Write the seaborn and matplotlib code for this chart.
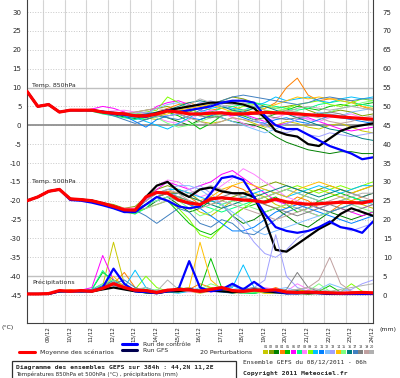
import matplotlib
matplotlib.use("Agg")
import pandas as pd
import matplotlib.pyplot as plt
import seaborn as sns
from matplotlib.lines import Line2D
from matplotlib.patches import Rectangle
from matplotlib.transforms import ScaledTranslation

# time axis: hours after 08/12/2011 06h, every 12 h
hours = list(range(0, 385, 12))
day_hours = [18 + 24 * k for k in range(16)]
day_labels = ["09/12", "10/12", "11/12", "12/12", "13/12", "14/12", "15/12", "16/12",
              "17/12", "18/12", "19/12", "20/12", "21/12", "22/12", "23/12", "24/12"]

member_names = ["%02d" % (i + 1) for i in range(20)]
member_colors = ["#c8c800", "#80a000", "#008000", "#ff8000", "#00c000", "#ff00ff", "#00ff80",
                 "#ff80ff", "#80ff00", "#00c0ff", "#0080ff", "#80c0ff", "#a0a0ff", "#ffc000",
                 "#80ff80", "#008080", "#4080c0", "#808080", "#c0a0a0", "#b0b0b0"]

# --- 850 hPa temperature (deg C)
t850_mean = [9, 5, 5.5, 3.5, 4, 4, 4, 3.5, 3.2, 3, 2.5, 2.5, 3, 3.8, 3.5, 3, 3, 3.2, 3.3, 3, 3,
             3.2, 3.4, 3.3, 3.2, 3, 2.8, 2.6, 2.5, 2.2, 2, 1.8, 1.6]
t850_control = [9, 5, 5.5, 3.5, 4, 4, 4, 3.6, 3, 2.8, 2.5, 2.3, 3, 4, 3.5, 4, 4.5, 5, 6, 6.5, 6.5,
                6, 2.5, 0, -1, -1, -2.5, -4, -5.5, -6.5, -7.5, -9, -8.5]
t850_gfs = [9, 5, 5.5, 3.5, 4, 4, 4, 3.5, 3.2, 3, 2.5, 2.5, 3.2, 4, 4.5, 5, 5.5, 6, 6, 6, 5.5,
            4.5, 2, -1.5, -2.5, -3, -5, -5.5, -3.5, -1.5, -0.5, 0, 0.5]
t850_members = [
    [9, 5, 5.4, 3.4, 4.1, 4.2, 4.0, 3.6, 3.5, 3.2, 2.8, 2.0, 1.5, 2.5, 3.0, 2.0, 1.0, 0.5, 1.0, 2.0, 1.5, 0.5, -0.5, 0.0, 1.0, 0.5, -0.5, -1.0, 0.0, 0.5, -0.5, -1.5, -2.0],
    [9, 5, 5.6, 3.6, 4.0, 3.8, 4.2, 3.8, 3.0, 2.5, 3.5, 4.0, 4.5, 5.0, 4.0, 3.5, 4.5, 5.5, 6.5, 7.5, 7.0, 6.0, 5.0, 4.5, 5.0, 5.5, 4.0, 3.0, 3.5, 4.0, 3.5, 2.5, 3.0],
    [9, 5, 5.5, 3.5, 3.9, 4.0, 3.8, 3.2, 2.8, 2.2, 1.8, 2.5, 3.0, 2.0, 1.0, 0.0, 1.5, 2.5, 2.0, 1.0, 0.5, 0.0, -1.0, -3.0, -4.5, -5.5, -6.5, -7.0, -7.5, -7.0, -7.0, -7.5, -7.5],
    [9, 5.1, 5.4, 3.5, 4.1, 3.9, 4.1, 3.7, 3.3, 3.5, 2.5, 2.0, 3.5, 4.5, 5.5, 6.0, 5.0, 4.0, 4.5, 5.0, 4.0, 3.5, 4.5, 6.0, 10.0, 12.5, 8.0, 6.5, 7.0, 7.0, 6.5, 5.0, 4.0],
    [9, 5, 5.5, 3.5, 4.0, 4.1, 3.9, 3.5, 3.4, 3.0, 2.0, 1.5, 2.5, 3.5, 2.5, 1.0, -1.0, 0.5, 2.5, 3.0, 2.5, 1.5, 2.0, 3.0, 4.0, 5.0, 4.5, 4.0, 5.0, 5.5, 5.0, 5.5, 6.0],
    [9, 5, 5.6, 3.4, 4.1, 4.0, 4.3, 5.0, 4.5, 3.5, 2.5, 3.0, 5.0, 6.0, 6.5, 5.5, 4.0, 3.5, 3.0, 2.5, 3.0, 2.0, 1.0, 0.0, 0.5, 1.5, 2.0, 1.0, 0.0, -1.0, -1.5, -1.0, -0.5],
    [9, 5, 5.5, 3.5, 4.0, 4.1, 3.7, 3.0, 2.5, 2.0, 1.5, 2.0, 3.0, 4.0, 3.5, 3.0, 2.5, 3.5, 4.5, 5.0, 5.5, 6.0, 5.5, 5.0, 4.5, 4.0, 4.5, 5.5, 6.0, 6.5, 6.0, 5.5, 5.0],
    [9, 5, 5.4, 3.5, 4.0, 3.9, 4.1, 3.6, 3.8, 4.0, 3.5, 3.0, 2.0, 1.0, 0.5, 1.5, 3.0, 4.0, 3.5, 2.0, 0.5, -0.5, 1.0, 2.0, 3.0, 2.5, 1.5, 1.0, 2.0, 2.5, 3.0, 2.0, 1.5],
    [9, 5, 5.5, 3.6, 3.9, 4.0, 4.0, 3.4, 3.0, 2.8, 3.0, 3.5, 4.0, 7.5, 6.0, 4.5, 3.0, 2.5, 3.0, 4.0, 5.0, 5.5, 4.0, 3.5, 4.5, 5.5, 6.0, 6.5, 5.5, 5.0, 6.0, 7.0, 6.5],
    [9, 5, 5.5, 3.5, 4.0, 4.0, 4.0, 3.5, 3.0, 2.5, 2.0, 1.0, 0.0, -1.0, 0.5, 2.0, 3.5, 4.5, 5.0, 4.5, 4.0, 5.0, 6.0, 7.5, 6.5, 7.0, 7.5, 6.5, 6.0, 7.0, 7.5, 7.0, 7.5],
    [9, 5, 5.5, 3.4, 4.0, 4.1, 3.9, 3.8, 3.5, 2.5, 1.0, -0.5, 1.5, 2.5, 3.0, 2.0, 1.5, 2.5, 3.5, 3.0, 2.0, 1.0, 0.5, 1.5, 2.0, 1.0, 0.5, 1.5, 2.5, 2.0, 1.5, 1.0, 0.5],
    [9, 5, 5.5, 3.5, 4.1, 4.0, 4.0, 3.6, 3.2, 3.0, 2.5, 3.0, 4.5, 5.5, 6.0, 5.0, 4.0, 3.0, 2.0, 1.0, 0.0, -1.0, -2.0, -1.0, 0.5, 1.5, 2.5, 3.5, 3.0, 2.5, 3.5, 4.0, 4.5],
    [9, 5, 5.5, 3.5, 4.0, 4.0, 4.1, 3.5, 3.0, 2.8, 3.2, 3.5, 3.0, 2.5, 3.0, 4.5, 6.0, 6.5, 5.5, 4.0, 3.0, 1.5, 0.0, -1.5, -2.0, -1.0, -2.5, -3.0, -2.0, -2.5, -3.0, -2.5, -2.0],
    [9, 5, 5.5, 3.5, 4.0, 4.0, 4.0, 3.5, 3.3, 3.0, 2.5, 2.0, 2.5, 3.0, 4.0, 4.5, 5.0, 5.5, 4.5, 3.5, 3.0, 3.5, 4.5, 5.5, 6.5, 7.5, 7.0, 7.5, 7.0, 6.5, 6.0, 5.0, 4.5],
    [9, 5, 5.5, 3.5, 4.0, 4.0, 3.8, 3.5, 3.0, 3.0, 3.0, 2.5, 2.0, 0.5, -0.5, 0.0, 1.0, 2.0, 3.0, 3.5, 4.0, 4.5, 5.0, 4.5, 4.0, 3.5, 3.0, 2.5, 3.5, 4.5, 5.0, 6.0, 6.5],
    [9, 5, 5.5, 3.5, 4.0, 4.0, 4.0, 3.6, 3.2, 2.8, 2.6, 3.0, 3.5, 4.0, 5.0, 6.0, 6.5, 6.0, 5.0, 4.0, 3.5, 4.5, 5.0, 4.0, 3.0, 2.0, 1.0, 0.0, -1.0, -1.5, -2.5, -3.5, -4.0],
    [9, 5, 5.5, 3.5, 4.0, 4.0, 3.9, 3.3, 2.5, 1.5, 0.5, 1.5, 2.5, 2.0, 1.5, 2.5, 4.0, 5.5, 6.5, 7.5, 8.0, 7.5, 7.0, 6.5, 6.0, 5.5, 6.0, 7.0, 7.5, 7.0, 6.5, 7.0, 7.0],
    [9, 5, 5.5, 3.5, 4.0, 4.0, 4.0, 3.5, 3.0, 2.8, 2.5, 2.0, 3.0, 4.0, 3.5, 3.0, 2.5, 2.0, 2.5, 3.0, 3.5, 3.0, 2.5, 2.0, 1.5, 2.0, 2.5, 3.0, 3.5, 3.0, 2.0, 1.5, 1.0],
    [9, 5, 5.5, 3.5, 4.0, 4.0, 4.0, 3.5, 3.0, 3.2, 3.5, 4.0, 4.5, 4.0, 3.0, 2.0, 1.0, 0.0, 1.0, 2.0, 1.5, 1.0, 2.0, 3.5, 4.0, 3.5, 2.5, 2.0, 1.0, 0.5, 1.0, 2.0, 2.5],
    [9, 5, 5.5, 3.5, 4.0, 4.0, 4.0, 3.5, 3.2, 3.0, 2.8, 2.5, 3.0, 3.5, 4.0, 5.5, 7.0, 6.0, 5.0, 5.5, 6.0, 5.0, 4.0, 3.0, 3.5, 4.5, 5.0, 4.5, 4.0, 4.5, 5.0, 4.5, 4.0],
]

# --- 500 hPa temperature (deg C)
t500_mean = [-20, -19, -17.5, -17, -19.5, -19.7, -20, -20.7, -21.5, -22.4, -22.5, -19, -17.8, -18,
             -19.8, -20.6, -21, -19.5, -19.2, -19.5, -19.8, -20, -20.4, -19.6, -20.3, -20.7, -20.9,
             -20.8, -20.6, -20.4, -20.5, -20.6, -20]
t500_control = [-20, -19, -17.5, -17, -19.8, -20, -20.5, -21.2, -22, -23, -23, -21, -19, -20, -21.5,
                -22, -21.5, -18, -14, -13.5, -14.5, -19, -23.5, -27, -28, -28.5, -28, -27, -25.5,
                -27, -27.5, -28.5, -25.5]
t500_gfs = [-20, -19, -17.5, -17, -19.5, -19.7, -20, -20.7, -21.5, -22.5, -22.8, -19, -16, -15,
            -17.5, -19, -17, -16.5, -17.5, -18, -18, -19, -25, -33, -33.5, -31.5, -29.5, -27.5,
            -26, -23.5, -22, -23, -24]
t500_members = [
    [-20, -19, -17.6, -17, -19.4, -19.8, -20.2, -21, -22, -23, -23.5, -21, -19, -18, -19, -21, -23, -24, -22, -20, -19, -18, -19, -21, -22, -20, -18, -17, -18, -19, -20, -21, -22],
    [-20, -19.1, -17.5, -16.9, -19.6, -19.5, -20, -20.5, -21, -22, -21.5, -19, -17, -16, -17, -18, -20, -21, -20, -19, -18, -17, -16, -15, -16, -17, -18, -17, -16, -17, -18, -17, -16],
    [-20, -19, -17.4, -17.1, -19.5, -19.7, -19.8, -20.5, -21.5, -22.5, -23, -22, -20, -19, -21, -23, -22, -20, -21, -24, -26, -25, -23, -22, -24, -26, -27, -25, -23, -24, -25, -24, -23],
    [-20, -19, -17.5, -17, -19.3, -19.9, -20.1, -20.8, -21.6, -22, -22, -20, -18, -17.5, -18, -19, -21, -20, -18, -16, -17, -19, -21, -22, -21, -19, -20, -22, -23, -21, -20, -19, -18],
    [-20, -19, -17.5, -17, -19.5, -19.6, -20, -20.6, -21.4, -22.6, -23, -21, -19, -20, -23, -26, -28, -29, -27, -24, -22, -21, -20, -19, -21, -23, -22, -20, -19, -18, -19, -20, -20],
    [-20, -19, -17.5, -17, -19.5, -19.7, -20, -20.7, -21.5, -22.4, -22, -20, -17, -15, -16, -17, -16, -15, -13, -12, -14, -16, -18, -20, -21, -22, -23, -24, -23, -22, -23, -24, -23],
    [-20, -19, -17.5, -17, -19.7, -19.8, -20, -21, -21.8, -22.8, -23.5, -22, -19, -18, -19, -20, -21, -22, -23, -22, -21, -20, -19, -18, -17, -18, -19, -20, -21, -20, -19, -20, -21],
    [-20, -19, -17.5, -17, -19.5, -19.7, -20, -20.7, -21.5, -22, -22, -19.5, -16, -14.5, -15, -17, -19, -18, -16, -14, -11.5, -13, -15, -17, -19, -20, -21, -22, -21, -20, -21, -22, -21],
    [-20, -19, -17.5, -17, -19.5, -19.7, -20, -20.7, -21.5, -22.4, -23, -22, -21, -20, -22, -25, -29, -30, -27, -24, -22, -20, -19, -18, -17, -16, -17, -18, -17, -16, -17, -16, -15],
    [-20, -19, -17.5, -17, -19.5, -19.7, -20, -20.7, -21.5, -22.4, -22.5, -20, -18, -17, -17, -18, -19, -20, -21, -20, -19, -18, -17, -18, -19, -18, -17, -16, -17, -18, -17, -16, -16],
    [-20, -19, -17.5, -17, -19.5, -19.7, -20, -20.7, -21.5, -22.4, -22.5, -21, -20, -19, -20, -21, -22, -24, -26, -28, -28, -27, -25, -23, -22, -21, -22, -23, -24, -25, -26, -25, -24],
    [-20, -19, -17.5, -17, -19.5, -19.7, -20, -20.7, -21.5, -22.4, -22.5, -21, -19, -17, -16, -16, -17, -19, -21, -23, -25, -28, -29, -28, -27, -26, -25, -24, -23, -22, -21, -20, -21],
    [-20, -19, -17.5, -17, -19.5, -19.7, -20, -20.7, -21.5, -22.4, -22.5, -21, -20, -19, -18, -17, -16, -18, -21, -24, -27, -31, -34, -35, -33, -30, -28, -27, -26, -27, -28, -27, -26],
    [-20, -19, -17.5, -17, -19.5, -19.7, -20, -20.7, -21.5, -22.4, -22.5, -21, -19, -18, -18, -19, -20, -19, -17, -16, -15, -16, -17, -18, -19, -17, -16, -15, -16, -17, -18, -17, -16],
    [-20, -19, -17.5, -17, -19.5, -19.7, -20, -20.7, -21.5, -22.4, -22.5, -21, -20, -19, -20, -22, -24, -23, -21, -20, -21, -22, -23, -22, -21, -22, -23, -24, -23, -22, -21, -22, -23],
    [-20, -19, -17.5, -17, -19.5, -19.7, -20, -20.7, -21.5, -22.4, -22.5, -21, -19, -18, -18, -19, -20, -21, -22, -21, -20, -19, -18, -17, -16, -17, -18, -19, -18, -17, -18, -19, -18],
    [-20, -19, -17.5, -17, -19.5, -19.7, -20, -20.7, -21.5, -22.4, -22.5, -24, -26, -24, -22, -23, -26, -27, -25, -26, -28.5, -29, -27, -25, -23, -22, -21, -22, -23, -22, -21, -20, -20],
    [-20, -19, -17.5, -17, -19.5, -19.7, -20, -20.7, -21.5, -22.4, -22.5, -21, -19, -18, -19, -20, -21, -20, -19, -18, -19, -20, -21, -22, -23, -24, -23, -22, -21, -22, -23, -22, -21],
    [-20, -19, -17.5, -17, -19.5, -19.7, -20, -20.7, -21.5, -22.4, -22.5, -20, -18, -17, -18, -20, -22, -21, -20, -21, -22, -23, -24, -25, -24, -23, -22, -21, -20, -19, -18, -19, -20],
    [-20, -19, -17.5, -17, -19.5, -19.7, -20, -20.7, -21.5, -22.4, -22.5, -22, -21, -20, -19, -18, -17, -16, -17, -18, -19, -20, -19, -18, -17, -18, -19, -20, -21, -20, -19, -18, -18],
]

# --- precipitation (mm, right axis)
rain_mean = [0.3, 0.3, 0.4, 1.2, 1.0, 1.2, 1.0, 1.8, 3.0, 2.0, 1.3, 1.2, 0.7, 1.3, 1.5, 1.4, 1.0,
             1.5, 2.0, 1.2, 1.0, 1.3, 1.2, 1.4, 0.8, 0.7, 0.8, 0.7, 0.6, 0.5, 0.6, 0.7, 0.6]
rain_control = [0.3, 0.3, 0.3, 1, 1, 1, 1, 2, 7, 3, 1, 0.8, 0.5, 1, 1.5, 9, 2, 1, 1.5, 3, 1.5, 3.5,
                1.5, 1, 0.5, 0.5, 0.8, 0.5, 0.4, 0.3, 0.3, 0.3, 0.3]
rain_gfs = [0.3, 0.3, 0.3, 1, 1, 1, 1, 1.5, 2, 1.5, 1, 0.8, 0.5, 1, 1, 1.5, 1, 1.2, 1, 0.8, 1, 1.5,
            1, 0.8, 0.5, 0.5, 0.5, 0.5, 0.3, 0.3, 0.3, 0.3, 0.3]
rain_members = [
    [0.3, 0.2, 0.3, 1.2, 0.8, 1.0, 1.5, 2.5, 14, 3, 1, 0.8, 0.5, 1, 1.5, 1, 0.5, 1, 1.5, 1, 0.5, 1, 0.8, 0.5, 1, 0.5, 0.3, 0.5, 0.4, 0.3, 0.5, 0.4, 0.3],
    [0.3, 0.3, 0.4, 1, 1.2, 0.8, 1, 2, 4, 2.5, 1.5, 1, 0.5, 0.8, 2, 1.5, 1, 2, 1.5, 1, 1, 0.8, 1.5, 1, 0.5, 0.5, 0.8, 0.5, 0.3, 0.5, 0.8, 0.5, 0.4],
    [0.2, 0.2, 0.3, 0.8, 1, 1.2, 0.8, 1.5, 3, 2, 1, 0.5, 0.5, 1, 1.5, 1, 1, 1.5, 1, 0.8, 0.5, 0.5, 1, 1.5, 1, 0.5, 0.3, 0.5, 1, 0.5, 0.3, 0.3, 0.3],
    [0.3, 0.3, 0.3, 1, 1.5, 1, 1.2, 1.5, 3, 6, 2, 1, 0.5, 0.8, 1, 1.5, 3, 2, 1, 0.5, 0.8, 1, 1, 2, 1, 1.5, 1, 0.5, 0.5, 0.3, 0.5, 0.3, 0.4],
    [0.2, 0.2, 0.4, 1.2, 1, 1, 1.5, 6, 4, 2, 1, 1.5, 0.8, 1, 2, 1, 1.5, 9.7, 2, 1, 0.8, 0.5, 1, 0.8, 0.5, 1, 0.8, 1, 2.5, 0.8, 0.5, 0.4, 0.3],
    [0.3, 0.3, 0.3, 1, 1, 1.3, 2, 10.5, 4, 1.5, 1, 0.8, 0.5, 1, 1.5, 1, 0.8, 1, 1.2, 0.8, 0.5, 1, 0.8, 0.5, 0.5, 0.8, 1, 0.5, 0.3, 0.5, 0.4, 0.3, 0.3],
    [0.2, 0.3, 0.3, 1, 1.2, 1, 1.5, 6.5, 3, 1.5, 1, 2, 1, 0.8, 1, 1.2, 1, 1.5, 1, 0.8, 0.5, 0.5, 0.8, 1, 0.8, 0.5, 0.8, 1, 0.5, 0.3, 0.3, 0.3, 0.3],
    [0.3, 0.2, 0.3, 1, 0.8, 1, 1.2, 2, 3, 2.5, 1.5, 1, 0.8, 1.5, 1, 0.8, 1, 0.8, 1, 0.8, 1, 1.5, 2, 1.5, 1, 3, 1.5, 1, 0.5, 0.8, 0.5, 0.4, 0.3],
    [0.2, 0.2, 0.3, 1, 1, 1.2, 1, 2, 3, 2, 1.5, 5, 2, 1, 0.8, 1, 1.5, 2, 1, 0.5, 0.8, 1, 0.5, 0.5, 1, 1.5, 1, 0.8, 0.5, 0.8, 3, 1, 0.5],
    [0.3, 0.3, 0.3, 1.2, 1, 1, 1.5, 3, 2.5, 2, 6.6, 2, 1, 0.8, 0.5, 1, 1.5, 1, 1.5, 2, 8, 2, 1, 0.8, 1, 0.5, 0.5, 1, 0.8, 0.5, 0.3, 0.3, 0.3],
    [0.2, 0.2, 0.3, 1, 1, 1, 1.2, 2.5, 4, 2, 1, 0.8, 0.5, 1, 1.5, 2, 1, 1, 0.8, 0.5, 1, 1.5, 1, 0.5, 0.3, 0.5, 0.8, 0.5, 0.3, 0.3, 0.5, 0.4, 0.3],
    [0.3, 0.3, 0.3, 1, 1.2, 1, 1.3, 2, 3.5, 2, 1.5, 1, 1, 1.2, 1.5, 1, 2, 1.5, 1, 1.5, 2, 1.5, 1, 1.5, 2, 1, 0.5, 1.5, 3, 2, 1, 0.8, 0.5],
    [0.3, 0.3, 0.3, 1, 1, 1, 1.5, 2, 3, 1.5, 1, 0.8, 1, 1, 1, 1.5, 1, 1.5, 1, 1, 1.5, 2, 4, 16, 5, 2, 1, 0.5, 0.5, 1, 1.5, 3, 4],
    [0.2, 0.3, 0.3, 1, 1, 1.2, 1, 2, 5, 2, 1, 0.8, 0.5, 1, 1.5, 2, 14, 4, 1.5, 1, 0.8, 1, 0.5, 0.5, 0.8, 1, 0.5, 0.5, 0.3, 0.5, 0.3, 0.3, 0.3],
    [0.3, 0.2, 0.3, 1, 1, 1, 1.2, 3, 4, 2, 1, 1, 1.5, 1, 1, 1, 1.5, 3, 2, 1, 0.5, 0.8, 1, 0.8, 0.5, 0.5, 1, 3, 1, 0.5, 0.3, 0.3, 0.3],
    [0.2, 0.2, 0.3, 1, 1, 1, 1, 2, 3, 2, 1.5, 1, 0.8, 1, 1, 1.5, 1, 1, 1.2, 1, 0.8, 1, 1.5, 1, 0.8, 1.2, 0.5, 0.8, 0.5, 0.3, 0.5, 0.3, 0.3],
    [0.3, 0.3, 0.3, 1, 1.2, 1, 1.5, 2, 3, 4, 2, 1, 0.8, 1, 1.5, 1, 1, 1.5, 1, 2.5, 1.5, 1, 0.8, 0.5, 0.5, 0.3, 0.5, 0.8, 0.5, 0.3, 0.3, 0.3, 0.3],
    [0.3, 0.2, 0.3, 1, 1, 1, 1.3, 2, 3.5, 2, 1.5, 1, 1, 1.5, 1, 1, 1.5, 1, 1, 1, 1.5, 2, 1.5, 1, 1.5, 6, 2, 1, 0.8, 0.5, 0.5, 0.5, 0.4],
    [0.2, 0.3, 0.3, 1, 1, 1.2, 1, 2, 3, 2.5, 1, 1, 0.8, 1, 1, 1, 1.2, 1, 1, 0.8, 1, 1.5, 1, 0.8, 1, 1.5, 2, 4, 10, 3, 1, 0.8, 0.5],
    [0.3, 0.3, 0.3, 1, 1, 1, 1.2, 2, 3, 2, 1.5, 2, 1, 4, 1.5, 1, 1, 1, 1.2, 1, 0.8, 1, 1, 1.5, 1, 1.5, 2, 1.5, 1, 1.5, 2, 2.5, 3],
]

# long tables for seaborn
rows = []
for var, members in (("t850", t850_members), ("t500", t500_members)):
    for name, vals in zip(member_names, members):
        for h, v in zip(hours, vals):
            rows.append((var, name, h, v))
temp_df = pd.DataFrame(rows, columns=["var", "member", "hour", "value"])
rain_df = pd.DataFrame([(name, h, v) for name, vals in zip(member_names, rain_members)
                        for h, v in zip(hours, vals)], columns=["member", "hour", "mm"])
palette = dict(zip(member_names, member_colors))

sns.set_style("white")
plt.rcParams["font.family"] = ["DejaVu Sans"]

W, H = 400, 378
fig = plt.figure(figsize=(W / 100, H / 100), dpi=100)
fig.patch.set_facecolor("white")


def fx(px):
    return px / W


def fy(py):
    return 1 - py / H


ax = fig.add_axes([fx(27), fy(323), fx(373) - fx(27), fy(0) - fy(323)])
ylo, yhi = -52.4, 33.2
ax.set_xlim(0, 384)
ax.set_ylim(ylo, yhi)

# grid
ax.set_xticks(day_hours)
ax.set_xticklabels(day_labels, rotation=90, fontsize=4.0)
ax.set_yticks(range(-45, 31, 5))
ax.set_yticklabels([str(v) for v in range(-45, 31, 5)], fontsize=5)
for h in day_hours:
    ax.axvline(h, color="#d4d4d4", lw=0.8, zorder=0)
for v in range(-45, 31, 5):
    ax.axhline(v, color="#c8c8c8", lw=0.7, ls=":", zorder=0)
ax.axhline(10, color="#c0c0c0", lw=1.0, zorder=0)
ax.axhline(-40, color="#c0c0c0", lw=1.0, zorder=0)
ax.axhline(0, color="#909090", lw=1.3, zorder=0)
ax.tick_params(length=0, pad=4)
ax.tick_params(axis="x", pad=2)
offset = ScaledTranslation(4 / 100, 0, fig.dpi_scale_trans)
for lab in ax.get_xticklabels():
    lab.set_transform(lab.get_transform() + offset)

ax.spines["top"].set_visible(False)
for s in ["left", "right", "bottom"]:
    ax.spines[s].set_color("#404040")
    ax.spines[s].set_linewidth(0.8)

# temperature members
sns.lineplot(data=temp_df, x="hour", y="value", hue="member", units="var", estimator=None,
             palette=palette, linewidth=0.7, legend=False, sort=False, ax=ax, zorder=2)
for gfs, ctl, mean in ((t850_gfs, t850_control, t850_mean), (t500_gfs, t500_control, t500_mean)):
    sns.lineplot(x=hours, y=gfs, color="black", linewidth=1.6, ax=ax, zorder=3)
    sns.lineplot(x=hours, y=ctl, color="#0000ff", linewidth=1.6, ax=ax, zorder=4)
    sns.lineplot(x=hours, y=mean, color="#ff0000", linewidth=2.3, ax=ax, zorder=5)
ax.set_xlabel("")
ax.set_ylabel("")

ax.text(5.5, 10.6, "Temp. 850hPa", fontsize=4.5, va="center", zorder=6)
ax.text(5.5, -15.0, "Temp. 500hPa", fontsize=4.5, va="center", zorder=6)
ax.text(5.5, -41.7, "Précipitations", fontsize=4.5, va="center", zorder=6)

# precipitation on the right axis
ax2 = ax.twinx()
ax2.set_ylim(ylo + 45, yhi + 45)
sns.lineplot(data=rain_df, x="hour", y="mm", hue="member", estimator=None, palette=palette,
             linewidth=0.7, legend=False, sort=False, ax=ax2, zorder=2)
sns.lineplot(x=hours, y=rain_gfs, color="black", linewidth=1.6, ax=ax2, zorder=3)
sns.lineplot(x=hours, y=rain_control, color="#0000ff", linewidth=1.6, ax=ax2, zorder=4)
sns.lineplot(x=hours, y=rain_mean, color="#ff0000", linewidth=2.3, ax=ax2, zorder=5)
ax2.set_yticks(range(0, 76, 5))
ax2.set_yticklabels([str(v) for v in range(0, 76, 5)], fontsize=5)
ax2.tick_params(length=0, pad=7)
ax2.set_ylabel("")
ax2.set_xlim(0, 384)
for s in ax2.spines.values():
    s.set_visible(False)

# units
fig.text(fx(2), fy(328), "(°C)", fontsize=4.5, va="center")
fig.text(fx(380), fy(329), "(mm)", fontsize=4.5, va="center")

# legend
fig.add_artist(Line2D([fx(122), fx(137)], [fy(344)] * 2, color="#0000ff", lw=2.2,
                      transform=fig.transFigure))
fig.text(fx(143), fy(344.5), "Run de contrôle", fontsize=4.3, va="center")
fig.add_artist(Line2D([fx(122), fx(137)], [fy(350)] * 2, color="#000050", lw=2.2,
                      transform=fig.transFigure))
fig.text(fx(143), fy(350.5), "Run GFS", fontsize=4.3, va="center")
fig.add_artist(Line2D([fx(19), fx(35)], [fy(352)] * 2, color="#ff0000", lw=2.2,
                      transform=fig.transFigure))
fig.text(fx(40), fy(352), "Moyenne des scénarios", fontsize=4.5, va="center")
fig.text(fx(200), fy(352), "20 Perturbations", fontsize=4.5, va="center")
for i, (name, col) in enumerate(zip(member_names, member_colors)):
    x0 = 263 + i * 5.6
    fig.add_artist(Rectangle((fx(x0), fy(354)), 5 / W, 4 / H, color=col, lw=0,
                             transform=fig.transFigure))
    fig.text(fx(x0 + 2.5), fy(347.5), name, fontsize=2.4, ha="center", va="center")

# title box
fig.add_artist(Rectangle((fx(12), fy(380)), (236 - 12) / W, (380 - 361) / H, fill=False,
                         ec="#303030", lw=0.9, transform=fig.transFigure))
fig.text(fx(16), fy(367), "Diagramme des ensembles GEFS sur 384h : 44,2N 11,2E",
         fontsize=4.6, fontweight="bold", family="DejaVu Sans Mono", va="center")
fig.text(fx(16), fy(374), "Températures 850hPa et 500hPa (°C) , précipitations (mm)",
         fontsize=4.0, va="center")
fig.text(fx(243), fy(362), "Ensemble GEFS du 08/12/2011 - 06h", fontsize=4.4,
         family="DejaVu Sans Mono", va="center")
fig.text(fx(243), fy(374), "Copyright 2011 Meteociel.fr", fontsize=4.6, fontweight="bold",
         family="DejaVu Sans Mono", va="center")

fig.savefig("out.png", dpi=100, facecolor="white")
